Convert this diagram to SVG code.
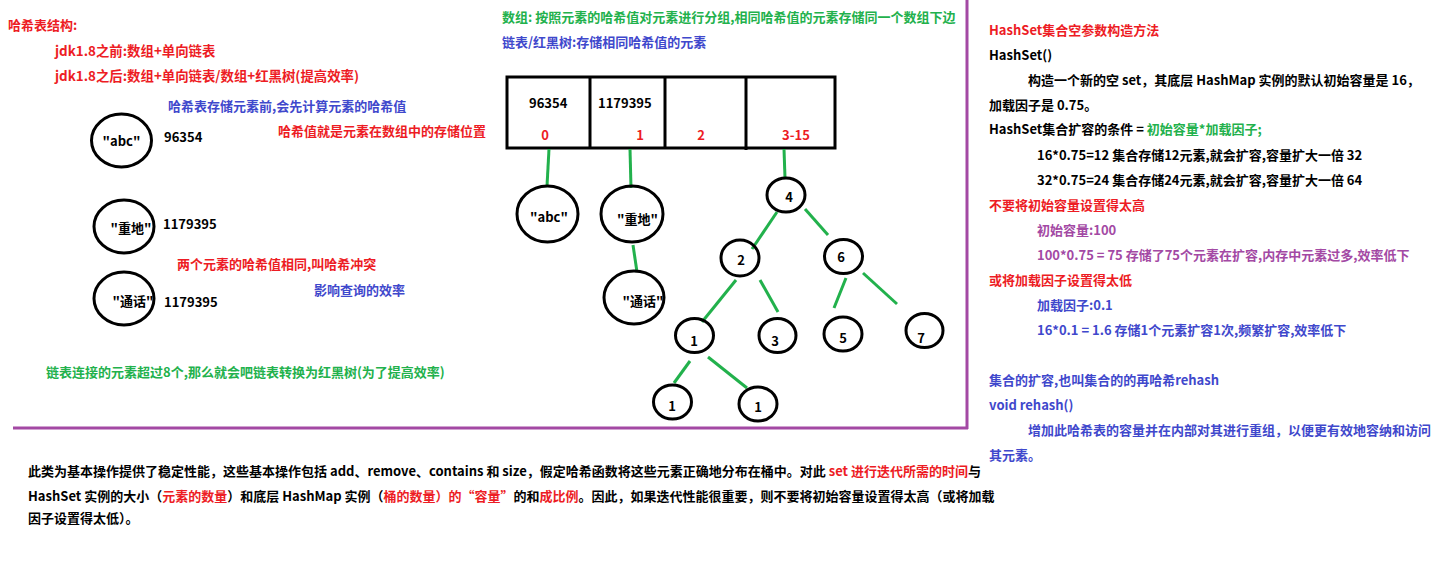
<svg xmlns="http://www.w3.org/2000/svg" width="1441" height="562" viewBox="0 0 1441 562">
<style>
text{font-family:"Noto Sans CJK SC","Noto Sans",sans-serif;font-weight:bold;font-size:13px;fill:#000}
.r{fill:#ed1c24}.g{fill:#22b14c}.b{fill:#3f48cc}.p{fill:#a349a4}
.m{text-anchor:middle}
.j{font-size:13.4px}
.c{fill:none;stroke:#000;stroke-width:3}
.ln{stroke:#22b14c;stroke-width:3;fill:none}
.sep{stroke:#a349a4;stroke-width:3;fill:none}
</style>
<rect width="1441" height="562" fill="#fff"/>
<g id="separators">
<line class="sep" x1="967" y1="0" x2="967" y2="429"/>
<line class="sep" x1="13" y1="428" x2="968" y2="428"/>
</g>
<g id="left-notes">
<text class="r" x="8" y="30">哈希表结构:</text>
<text class="r j" x="55" y="56">jdk1.8之前:数组+单向链表</text>
<text class="r j" x="55" y="81">jdk1.8之后:数组+单向链表/数组+红黑树(提高效率)</text>
<text class="b" x="168" y="111">哈希表存储元素前,会先计算元素的哈希值</text>
<text class="r" x="278" y="136">哈希值就是元素在数组中的存储位置</text>
<text class="r" x="177" y="269">两个元素的哈希值相同,叫哈希冲突</text>
<text class="b" x="314" y="295">影响查询的效率</text>
<text class="g" x="46" y="377">链表连接的元素超过8个,那么就会吧链表转换为红黑树(为了提高效率)</text>
</g>
<g id="left-abc"><ellipse class="c" cx="121.5" cy="140.5" rx="30" ry="26.5"/><text class="m" x="121.5" y="146">"abc"</text><text x="164" y="142">96354</text></g>
<g id="left-zhongdi"><ellipse class="c" cx="124" cy="226.5" rx="30" ry="26.5"/><text class="m" x="131" y="233">"重地"</text><text x="163" y="229">1179395</text></g>
<g id="left-tonghua"><ellipse class="c" cx="124" cy="298.5" rx="30" ry="26.5"/><text class="m" x="133" y="306">"通话"</text><text x="164" y="307">1179395</text></g>
<g id="mid-notes">
<text class="g" x="502" y="22">数组: 按照元素的哈希值对元素进行分组,相同哈希值的元素存储同一个数组下边</text>
<text class="b" x="502" y="47">链表/红黑树:存储相同哈希值的元素</text>
</g>
<g id="array">
<rect class="c" x="507" y="77" width="328" height="71"/>
<line class="c" x1="590" y1="77" x2="590" y2="148"/>
<line class="c" x1="665" y1="77" x2="665" y2="148"/>
<line class="c" x1="746" y1="77" x2="746" y2="150"/>
<text x="529" y="108">96354</text>
<text x="598" y="108">1179395</text>
<text class="r m" x="545" y="140">0</text>
<text class="r m" x="640" y="140">1</text>
<text class="r m" x="701" y="140">2</text>
<text class="r m" x="796" y="140">3-15</text>
</g>
<g id="connectors">
<line class="ln" x1="549" y1="149" x2="547" y2="186"/>
<line class="ln" x1="630" y1="149" x2="631" y2="188"/>
<line class="ln" x1="784" y1="149" x2="785" y2="178"/>
<line class="ln" x1="633" y1="245" x2="637" y2="272"/>
<line class="ln" x1="777" y1="212" x2="752" y2="249"/>
<line class="ln" x1="805" y1="209" x2="828" y2="235"/>
<line class="ln" x1="736" y1="280" x2="702" y2="322"/>
<line class="ln" x1="760" y1="280" x2="778" y2="312"/>
<line class="ln" x1="846" y1="278" x2="834" y2="308"/>
<line class="ln" x1="863" y1="273" x2="897" y2="304"/>
<line class="ln" x1="690" y1="361" x2="674" y2="383"/>
<line class="ln" x1="708" y1="357" x2="747" y2="388"/>
</g>
<g id="mid-abc"><ellipse class="c" cx="547.5" cy="214" rx="30.5" ry="28"/><text class="m" x="549" y="222">"abc"</text></g>
<g id="mid-zhongdi"><ellipse class="c" cx="632" cy="214" rx="31" ry="28"/><text class="m" x="637.5" y="224">"重地"</text></g>
<g id="mid-tonghua"><ellipse class="c" cx="634" cy="297.5" rx="30" ry="26.5"/><text class="m" x="643" y="306">"通话"</text></g>
<g id="t4"><ellipse class="c" cx="786" cy="195" rx="19" ry="17"/><text class="m" x="789" y="202">4</text></g>
<g id="t2"><ellipse class="c" cx="740" cy="258" rx="19" ry="18"/><text class="m" x="741" y="265">2</text></g>
<g id="t6"><ellipse class="c" cx="843.5" cy="256.5" rx="19" ry="17"/><text class="m" x="841" y="262">6</text></g>
<g id="t1"><ellipse class="c" cx="694.5" cy="335.5" rx="19" ry="17"/><text class="m" x="694" y="346">1</text></g>
<g id="t3"><ellipse class="c" cx="777.5" cy="335.5" rx="18.5" ry="17"/><text class="m" x="775" y="346">3</text></g>
<g id="t5"><ellipse class="c" cx="843" cy="334" rx="19" ry="17"/><text class="m" x="843" y="343">5</text></g>
<g id="t7"><ellipse class="c" cx="924.5" cy="330.5" rx="18.5" ry="17"/><text class="m" x="921" y="343">7</text></g>
<g id="t1l"><ellipse class="c" cx="672.5" cy="402" rx="19" ry="17"/><text class="m" x="672" y="411">1</text></g>
<g id="t1r"><ellipse class="c" cx="758" cy="404" rx="19" ry="17"/><text class="m" x="758" y="412">1</text></g>
<g id="right-notes">
<text class="r" x="989" y="35">HashSet集合空参数构造方法</text>
<text x="989" y="60">HashSet()</text>
<text x="1028" y="85">构造一个新的空 set，其底层 HashMap 实例的默认初始容量是 16，</text>
<text x="989" y="110">加载因子是 0.75。</text>
<text x="989" y="134">HashSet集合扩容的条件 = <tspan class="g">初始容量*加载因子;</tspan></text>
<text x="1037" y="160">16*0.75=12 集合存储12元素,就会扩容,容量扩大一倍 32</text>
<text x="1037" y="185">32*0.75=24 集合存储24元素,就会扩容,容量扩大一倍 64</text>
<text class="r" x="989" y="210">不要将初始容量设置得太高</text>
<text class="p" x="1037" y="235">初始容量:100</text>
<text class="p" x="1037" y="260">100*0.75 = 75 存储了75个元素在扩容,内存中元素过多,效率低下</text>
<text class="r" x="989" y="285">或将加载因子设置得太低</text>
<text class="b" x="1037" y="310">加载因子:0.1</text>
<text class="b" x="1037" y="335">16*0.1 = 1.6 存储1个元素扩容1次,频繁扩容,效率低下</text>
<text class="b" x="989" y="385">集合的扩容,也叫集合的的再哈希rehash</text>
<text class="b" x="989" y="410">void rehash()</text>
<text class="b" x="1028" y="435">增加此哈希表的容量并在内部对其进行重组，以便更有效地容纳和访问</text>
<text class="b" x="989" y="460">其元素。</text>
</g>
<g id="bottom-notes">
<text x="28" y="476">此类为基本操作提供了稳定性能，这些基本操作包括 add、remove、contains 和 size，假定哈希函数将这些元素正确地分布在桶中。对此 <tspan class="r">set 进行迭代所需的时间</tspan>与</text>
<text x="28" y="501">HashSet 实例的大小（<tspan class="r">元素的数量</tspan>）和底层 HashMap 实例（<tspan class="r">桶的数量）的“容量”</tspan>的和<tspan class="r">成比例</tspan>。因此，如果迭代性能很重要，则不要将初始容量设置得太高（或将加载</text>
<text x="28" y="523">因子设置得太低）。</text>
</g>
</svg>
